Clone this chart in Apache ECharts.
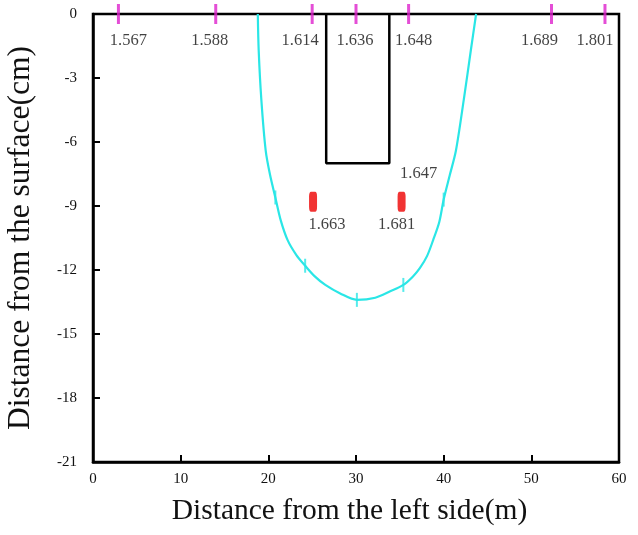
<!DOCTYPE html>
<html>
<head>
<meta charset="utf-8">
<script src="https://cdn.jsdelivr.net/npm/echarts@6/dist/echarts.min.js"></script>
<style>
  html, body { margin: 0; padding: 0; background: #fff; }
  #chart { width: 638px; height: 535px; }
</style>
</head>
<body>
<div id="chart"></div>
<script>
// surface probes along the top (x in m) and their readings
const probeX = [2.9, 14.0, 25.0, 30.0, 36.0, 52.3, 58.4];
const probeVal = ["1.567", "1.588", "1.614", "1.636", "1.648", "1.689", "1.801"];
const probeShift = [10, -6, -12, -1, 5, -12, -10]; // label nudge, px

// cyan boundary curve (x, depth)
const curveX = [18.8, 18.9, 19.2, 19.7, 20.2, 20.8, 21.4, 22.2, 23.2, 24.2, 25.3, 26.5, 28.2, 30.1,
                32.2, 33.9, 35.4, 36.5, 37.3, 38.1, 38.8, 39.5, 40.0, 40.7, 41.4, 42.3, 43.1, 43.7];
const curveY = [0, -1.7, -4.0, -6.4, -7.55, -8.6, -9.65, -10.6, -11.3, -11.8, -12.3, -12.7, -13.1, -13.4,
                -13.3, -13.0, -12.7, -12.3, -11.9, -11.35, -10.6, -9.75, -8.7, -7.55, -6.4, -4.0, -1.7, 0];

// short marks on the curve
const markX = [20.8, 24.2, 30.1, 35.4, 40.0];
const markY = [-8.6, -11.8, -13.4, -12.7, -8.7];

// black box
const boxX = [26.6, 26.6, 33.8, 33.8];
const boxY = [0, -7, -7, 0];

// buried red sensors
const sensorX = [25.1, 35.2];
const sensorY = [-8.8, -8.8];
const sensorVal = ["1.663", "1.681"];
const extraVal = "1.647"; // reading shown above the right sensor

const xTicks = { min: 0, max: 60, interval: 10 };
const yTicks = { min: -21, max: 0, interval: 3 };

const serif = "Liberation Serif";
const zip = (a, b) => a.map((v, i) => [v, b[i]]);

let chart = echarts.init(document.getElementById("chart"));

let sensorData = sensorX.map((x, i) => ({
  value: [x, sensorY[i]],
  label: { position: "bottom", distance: 4, offset: i === 0 ? [14, 0] : [-5, 0], formatter: sensorVal[i] }
}));
sensorData.push({
  value: [sensorX[1], sensorY[1]],
  symbolSize: 0,
  label: { position: "top", distance: 20, offset: [17, 0], formatter: extraVal }
});

let option = {
  animation: false,
  backgroundColor: "#fff",
  grid: {
    left: 93, right: 19, top: 14, bottom: 73,
    outerBoundsMode: "none",
    show: true, borderColor: "#000", borderWidth: 2.5
  },
  xAxis: {
    type: "value",
    min: xTicks.min, max: xTicks.max, interval: xTicks.interval,
    name: "Distance from the left side(m)",
    nameLocation: "middle",
    nameGap: 34,
    nameTextStyle: { fontFamily: serif, fontSize: 29.5, color: "#111", padding: [0, 13, 0, 0] },
    axisLine: { onZero: false, lineStyle: { color: "#000", width: 2.5 } },
    axisTick: { inside: true, length: 7, lineStyle: { color: "#000", width: 2 } },
    axisLabel: { fontFamily: serif, fontSize: 15, color: "#111", margin: 10 },
    splitLine: { show: false }
  },
  yAxis: {
    type: "value",
    min: yTicks.min, max: yTicks.max, interval: yTicks.interval,
    name: "Distance from the surface(cm)",
    nameLocation: "middle",
    nameGap: 56,
    nameTextStyle: { fontFamily: serif, fontSize: 31.5, color: "#111" },
    axisLine: { onZero: false, lineStyle: { color: "#000", width: 2.5 } },
    axisTick: { inside: true, length: 7, lineStyle: { color: "#000", width: 2 } },
    axisLabel: { fontFamily: serif, fontSize: 15, color: "#111", margin: 16 },
    splitLine: { show: false }
  },
  series: [
    {
      // boundary curve
      type: "line",
      data: zip(curveX, curveY),
      smooth: 0.3,
      symbol: "none",
      lineStyle: { color: "#2ae6e6", width: 2.2 },
      z: 3
    },
    {
      type: "scatter",
      data: zip(markX, markY),
      symbol: "rect",
      symbolSize: [2, 14],
      itemStyle: { color: "#2ae6e6" },
      z: 3
    },
    {
      // box
      type: "line",
      data: zip(boxX, boxY),
      symbol: "none",
      lineStyle: { color: "#000", width: 2.5 },
      z: 2
    },
    {
      // top probes
      type: "scatter",
      clip: false,
      data: probeX.map((x, i) => ({
        value: [x, 0],
        label: { offset: [probeShift[i], 0], formatter: probeVal[i] }
      })),
      symbol: "rect",
      symbolSize: [3, 20],
      itemStyle: { color: "#dd22cc" },
      label: {
        show: true, position: "bottom", distance: 8,
        fontFamily: serif, fontSize: 16.5, color: "#111"
      },
      z: 5
    },
    {
      // red sensors
      type: "scatter",
      data: sensorData,
      symbol: "roundRect",
      symbolSize: [8, 20],
      itemStyle: { color: "#ee0000" },
      label: { show: true, fontFamily: serif, fontSize: 16.5, color: "#111" },
      z: 4
    }
  ]
};

chart.setOption(option);
</script>
</body>
</html>
